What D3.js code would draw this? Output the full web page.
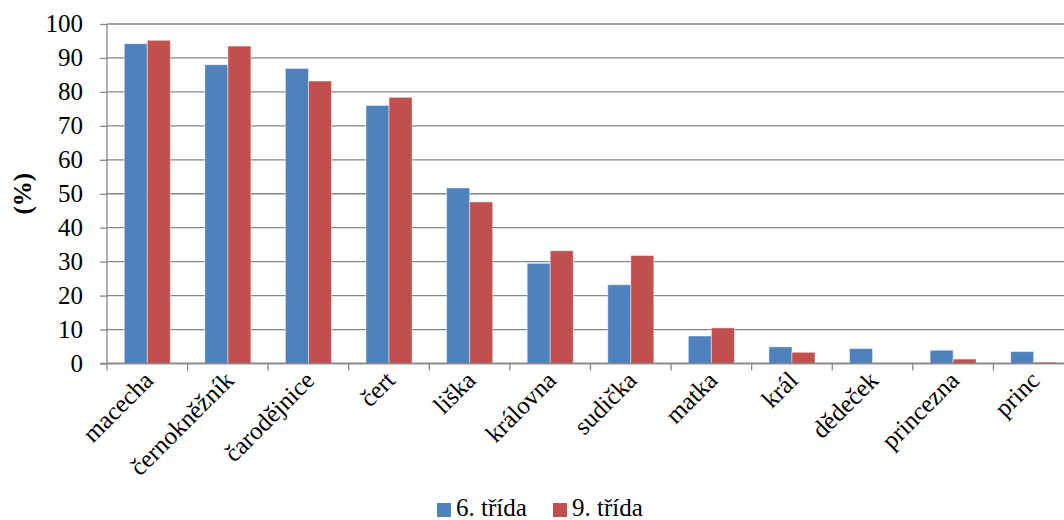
<!doctype html>
<html>
<head>
  <meta charset="utf-8">
  <title>Postavy</title>
  <style>
    body { margin: 0; background: #fff; }
  </style>
</head>
<body>
  <div class="graphContainer"></div>
  <script src="https://cdn.jsdelivr.net/npm/d3@7"></script>
  <script>
const categories = ["macecha", "černokněžník", "čarodějnice", "čert", "liška", "královna",
                    "sudička", "matka", "král", "dědeček", "princezna", "princ"];
const seriesNames = ["6. třída", "9. třída"];
const grade6 = [94.2, 88.0, 86.9, 76.0, 51.7, 29.5, 23.2, 8.1, 4.9, 4.4, 3.9, 3.5];
const grade9 = [95.2, 93.5, 83.2, 78.4, 47.6, 33.2, 31.8, 10.5, 3.3, 0, 1.3, 0.4];
const yTicks = [0, 10, 20, 30, 40, 50, 60, 70, 80, 90, 100];
const colors = ["#4F81BD", "#C0504D"];

const FONT = "'Liberation Serif', 'Times New Roman', Times, serif";

function chart() {
    var w = 1064, h = 520;
    var left = 107, right = 1074, top = 24, bottom = 363.5;
    var fs = 25;

    var svg = d3.select(".graphContainer")
        .append("svg")
        .attr("width", w)
        .attr("height", h);

    let x = d3.scaleBand().domain(categories).range([left, right]);
    let y = d3.scaleLinear().domain([0, 100]).range([bottom, top]);

    // gridlines
    svg.append("g")
        .selectAll("line")
        .data(yTicks)
        .join("line")
        .attr("x1", left).attr("x2", right)
        .attr("y1", d => y(d)).attr("y2", d => y(d))
        .attr("stroke", "#868686")
        .attr("stroke-width", 1.3);

    // y axis
    let yAxis = svg.append("g")
        .attr("transform", `translate(${left},0)`)
        .call(d3.axisLeft(y).tickValues(yTicks).tickSize(7).tickPadding(17));
    yAxis.attr("font-family", null);
    yAxis.selectAll("line, path").attr("stroke", "#868686").attr("stroke-width", 1.3);
    yAxis.select(".domain").attr("d", `M0,${top}V${bottom}`);
    yAxis.selectAll("text")
        .attr("dy", "0.3em")
        .style("font-family", FONT)
        .style("font-size", fs + "px")
        .style("fill", "#000");

    // bars
    let x1 = d3.scaleBand().domain([0, 1]).range([0, x.bandwidth()]).paddingOuter(0.75);
    let series = [grade6, grade9];
    series.forEach((vals, s) => {
        svg.append("g")
            .selectAll("rect")
            .data(vals)
            .join("rect")
            .attr("x", (d, i) => x(categories[i]) + x1(s))
            .attr("width", x1.bandwidth())
            .attr("y", d => y(d))
            .attr("height", d => bottom - y(d))
            .attr("fill", colors[s])
            .attr("stroke", "rgba(255,255,255,0.45)")
            .attr("stroke-width", 1);
    });

    // x axis
    let xAxis = svg.append("g")
        .attr("transform", `translate(0,${bottom})`);
    xAxis.append("line")
        .attr("x1", left - 7).attr("x2", right)
        .attr("stroke", "#868686").attr("stroke-width", 1.3);
    xAxis.selectAll("line.tick")
        .data(categories.map(c => x(c)).concat([right]))
        .join("line")
        .attr("class", "tick")
        .attr("x1", d => d).attr("x2", d => d)
        .attr("y1", 0).attr("y2", 7)
        .attr("stroke", "#868686").attr("stroke-width", 1.3);

    xAxis.selectAll("text")
        .data(categories)
        .join("text")
        .attr("transform", d => `translate(${x(d) + x.bandwidth() / 2 - 5},6) rotate(-45)`)
        .attr("text-anchor", "end")
        .attr("dy", "0.7em")
        .style("font-family", FONT)
        .style("font-size", fs + "px")
        .text(d => d);

    // y title
    svg.append("text")
        .attr("transform", `translate(22,${(top + bottom) / 2}) rotate(-90)`)
        .attr("text-anchor", "middle")
        .attr("dy", "0.35em")
        .style("font-family", FONT)
        .style("font-size", fs + "px")
        .style("font-weight", "bold")
        .text("(%)");

    // legend
    let legendX = [437, 553];
    seriesNames.forEach((name, s) => {
        svg.append("rect")
            .attr("x", legendX[s]).attr("y", 503)
            .attr("width", 14).attr("height", 14)
            .attr("fill", colors[s]);
        svg.append("text")
            .attr("x", legendX[s] + 19).attr("y", 516)
            .style("font-family", FONT)
            .style("font-size", fs + "px")
            .text(name);
    });
}

chart();
  </script>
</body>
</html>
